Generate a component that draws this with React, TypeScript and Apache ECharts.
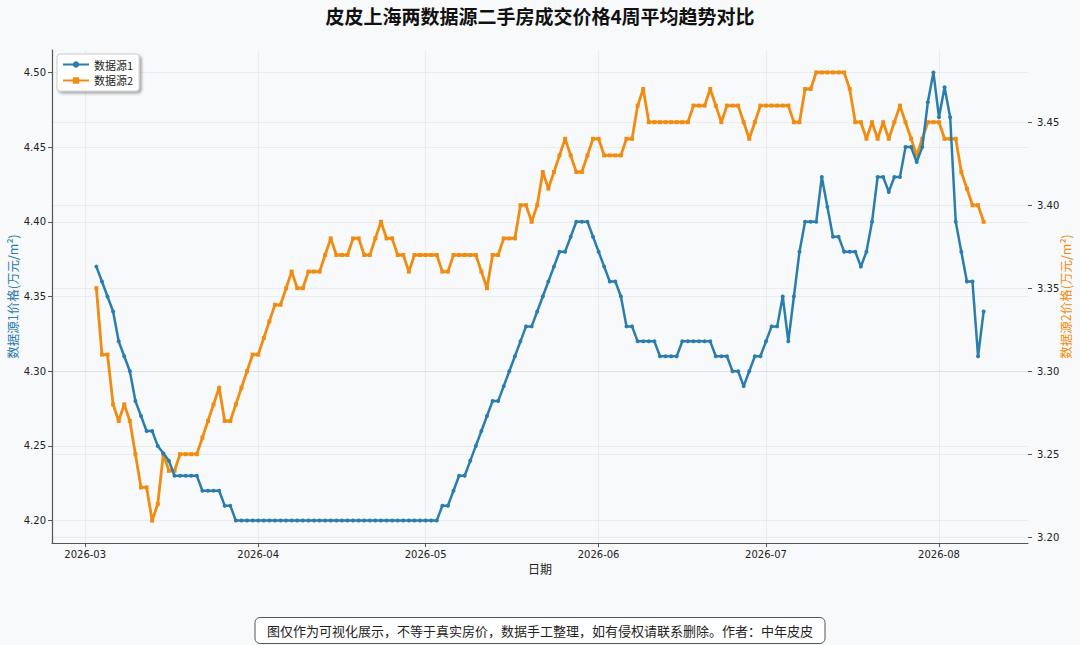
import React, { useEffect, useRef } from "react";
import * as echarts from "echarts";

// ---- data ----
const titleText = "皮皮上海两数据源二手房成交价格4周平均趋势对比";
const seriesNames = ["数据源1", "数据源2"];
const startDay = [2026, 2, 3]; // 2026-03-03, one point per day
const monthTicks = ["2026-03", "2026-04", "2026-05", "2026-06", "2026-07", "2026-08"];
const leftTicks = [4.2, 4.25, 4.3, 4.35, 4.4, 4.45, 4.5];
const rightTicks = [3.2, 3.25, 3.3, 3.35, 3.4, 3.45];
const footerText = "图仅作为可视化展示，不等于真实房价，数据手工整理，如有侵权请联系删除。作者：中年皮皮";

const source1 = [
  4.37, 4.36, 4.35, 4.34, 4.32, 4.31, 4.30, 4.28, 4.27, 4.26,
  4.26, 4.25, 4.245, 4.24, 4.23, 4.23, 4.23, 4.23, 4.23, 4.22,
  4.22, 4.22, 4.22, 4.21, 4.21, 4.20, 4.20, 4.20, 4.20, 4.20,
  4.20, 4.20, 4.20, 4.20, 4.20, 4.20, 4.20, 4.20, 4.20, 4.20,
  4.20, 4.20, 4.20, 4.20, 4.20, 4.20, 4.20, 4.20, 4.20, 4.20,
  4.20, 4.20, 4.20, 4.20, 4.20, 4.20, 4.20, 4.20, 4.20, 4.20,
  4.20, 4.20, 4.21, 4.21, 4.22, 4.23, 4.23, 4.24, 4.25, 4.26,
  4.27, 4.28, 4.28, 4.29, 4.30, 4.31, 4.32, 4.33, 4.33, 4.34,
  4.35, 4.36, 4.37, 4.38, 4.38, 4.39, 4.40, 4.40, 4.40, 4.39,
  4.38, 4.37, 4.36, 4.36, 4.35, 4.33, 4.33, 4.32, 4.32, 4.32,
  4.32, 4.31, 4.31, 4.31, 4.31, 4.32, 4.32, 4.32, 4.32, 4.32,
  4.32, 4.31, 4.31, 4.31, 4.30, 4.30, 4.29, 4.30, 4.31, 4.31,
  4.32, 4.33, 4.33, 4.35, 4.32, 4.35, 4.38, 4.40, 4.40, 4.40,
  4.43, 4.41, 4.39, 4.39, 4.38, 4.38, 4.38, 4.37, 4.38, 4.40,
  4.43, 4.43, 4.42, 4.43, 4.43, 4.45, 4.45, 4.44, 4.45, 4.48,
  4.50, 4.47, 4.49, 4.47, 4.40, 4.38, 4.36, 4.36, 4.31, 4.34,
];

const source2 = [
  3.35, 3.31, 3.31, 3.28, 3.27, 3.28, 3.27, 3.25, 3.23, 3.23,
  3.21, 3.22, 3.25, 3.24, 3.24, 3.25, 3.25, 3.25, 3.25, 3.26,
  3.27, 3.28, 3.29, 3.27, 3.27, 3.28, 3.29, 3.30, 3.31, 3.31,
  3.32, 3.33, 3.34, 3.34, 3.35, 3.36, 3.35, 3.35, 3.36, 3.36,
  3.36, 3.37, 3.38, 3.37, 3.37, 3.37, 3.38, 3.38, 3.37, 3.37,
  3.38, 3.39, 3.38, 3.38, 3.37, 3.37, 3.36, 3.37, 3.37, 3.37,
  3.37, 3.37, 3.36, 3.36, 3.37, 3.37, 3.37, 3.37, 3.37, 3.36,
  3.35, 3.37, 3.37, 3.38, 3.38, 3.38, 3.40, 3.40, 3.39, 3.40,
  3.42, 3.41, 3.42, 3.43, 3.44, 3.43, 3.42, 3.42, 3.43, 3.44,
  3.44, 3.43, 3.43, 3.43, 3.43, 3.44, 3.44, 3.46, 3.47, 3.45,
  3.45, 3.45, 3.45, 3.45, 3.45, 3.45, 3.45, 3.46, 3.46, 3.46,
  3.47, 3.46, 3.45, 3.46, 3.46, 3.46, 3.45, 3.44, 3.45, 3.46,
  3.46, 3.46, 3.46, 3.46, 3.46, 3.45, 3.45, 3.47, 3.47, 3.48,
  3.48, 3.48, 3.48, 3.48, 3.48, 3.47, 3.45, 3.45, 3.44, 3.45,
  3.44, 3.45, 3.44, 3.45, 3.46, 3.45, 3.44, 3.43, 3.44, 3.45,
  3.45, 3.45, 3.44, 3.44, 3.44, 3.42, 3.41, 3.40, 3.40, 3.39,
];

// ---- helpers ----
const dates = source1.map((_, i) =>
  new Date(startDay[0], startDay[1], startDay[2] + i).getTime()
);
const monthValues = monthTicks.map((m) => {
  const [y, mo] = m.split("-").map(Number);
  return new Date(y, mo - 1, 1).getTime();
});
const pad2 = (n: number) => (n < 10 ? "0" + n : "" + n);
const fmtMonth = (v: number) => {
  const d = new Date(v);
  return d.getFullYear() + "-" + pad2(d.getMonth() + 1);
};
const margin = (e: { min: number; max: number }, side: number) => {
  const r = e.max - e.min;
  return side < 0 ? e.min - 0.05 * r : e.max + 0.05 * r;
};

const BLUE = "#2A7DAC";
const ORANGE = "#F08C12";
const AXIS = "#555555";
const GRID = "rgba(60,70,90,0.07)";
const LABEL_FONT = "DejaVu Sans";
const CJK = "Noto Sans CJK SC";

export default function App() {
  const ref = useRef<HTMLDivElement>(null);

  useEffect(() => {
    if (!ref.current) return;
    const chart = echarts.init(ref.current, undefined, { renderer: "svg" });

    const option: any = {
      animation: false,
      backgroundColor: "#f8f9fb",
      title: {
        text: titleText,
        left: "center",
        top: 1,
        textStyle: { fontSize: 19, fontWeight: "bold", color: "#111", fontFamily: CJK },
      },
      legend: {
        left: 57,
        top: 54,
        orient: "vertical",
        itemWidth: 26,
        itemHeight: 8,
        itemGap: 5,
        padding: [5, 6, 5, 5],
        backgroundColor: "#ffffff",
        borderColor: "#cccccc",
        borderWidth: 1,
        borderRadius: 3,
        shadowBlur: 3,
        shadowColor: "rgba(0,0,0,0.35)",
        shadowOffsetX: 2,
        shadowOffsetY: 2,
        textStyle: { fontSize: 11, color: "#222", fontFamily: CJK },
        data: seriesNames,
      },
      grid: {
        left: 52,
        right: 52,
        top: 50,
        bottom: 102,
        containLabel: false,
        outerBoundsMode: "none",
      },
      xAxis: {
        type: "value",
        scale: true,
        min: (e: any) => margin(e, -1),
        max: (e: any) => margin(e, 1),
        name: "日期",
        nameLocation: "middle",
        nameGap: 19,
        nameMoveOverlap: false,
        nameTextStyle: { fontSize: 12, color: "#222", fontFamily: CJK },
        axisLine: { show: true, onZero: false, lineStyle: { color: AXIS, width: 1.2 } },
        axisTick: { show: true, length: 4, customValues: monthValues, lineStyle: { color: AXIS } },
        axisLabel: {
          customValues: monthValues,
          formatter: (v: number) => fmtMonth(v),
          fontSize: 10,
          color: "#222",
          fontFamily: LABEL_FONT,
          margin: 6,
        },
        splitLine: { show: true, lineStyle: { color: GRID, width: 1 } },
      },
      yAxis: [
        {
          type: "value",
          position: "left",
          scale: true,
          min: (e: any) => margin(e, -1),
          max: (e: any) => margin(e, 1),
          name: "数据源1价格(万元/m²)",
          nameLocation: "middle",
          nameGap: 33,
          nameMoveOverlap: false,
          nameTextStyle: { fontSize: 12.5, color: BLUE, fontFamily: CJK },
          axisLine: { show: true, onZero: false, lineStyle: { color: AXIS, width: 1.2 } },
          axisTick: { show: true, length: 4, customValues: leftTicks, lineStyle: { color: AXIS } },
          axisLabel: {
            customValues: leftTicks,
            formatter: (v: number) => v.toFixed(2),
            fontSize: 10,
            color: "#222",
            fontFamily: LABEL_FONT,
            margin: 6,
          },
          splitLine: { show: true, lineStyle: { color: GRID, width: 1 } },
        },
        {
          type: "value",
          position: "right",
          scale: true,
          min: (e: any) => margin(e, -1),
          max: (e: any) => margin(e, 1),
          name: "数据源2价格(万元/m²)",
          nameLocation: "middle",
          nameGap: 31,
          nameMoveOverlap: false,
          nameTextStyle: { fontSize: 12.5, color: ORANGE, fontFamily: CJK },
          axisLine: { show: false, onZero: false },
          axisTick: { show: true, length: 4, customValues: rightTicks, lineStyle: { color: AXIS } },
          axisLabel: {
            customValues: rightTicks,
            formatter: (v: number) => v.toFixed(2),
            fontSize: 10,
            color: "#222",
            fontFamily: LABEL_FONT,
            margin: 9,
          },
          splitLine: { show: true, lineStyle: { color: GRID, width: 1 } },
        },
      ],
      series: [
        {
          name: seriesNames[0],
          type: "line",
          yAxisIndex: 0,
          data: dates.map((d, i) => [d, source1[i]]),
          symbol: "circle",
          symbolSize: 4,
          showSymbol: true,
          color: BLUE,
          lineStyle: { width: 2.5, color: BLUE },
          itemStyle: { color: BLUE },
          z: 3,
        },
        {
          name: seriesNames[1],
          type: "line",
          yAxisIndex: 1,
          data: dates.map((d, i) => [d, source2[i]]),
          symbol: "rect",
          symbolSize: 4,
          showSymbol: true,
          color: ORANGE,
          lineStyle: { width: 2.8, color: ORANGE },
          itemStyle: { color: ORANGE },
          z: 2,
        },
      ],
      graphic: [
        {
          type: "group",
          left: "center",
          top: 617,
          children: [
            {
              type: "rect",
              shape: { x: 0, y: 0, width: 570, height: 26, r: 5 },
              style: { fill: "#ffffff", stroke: "#555", lineWidth: 1 },
            },
            {
              type: "text",
              x: 285,
              y: 13,
              style: {
                text: footerText,
                fontSize: 13,
                fill: "#222",
                fontFamily: CJK,
                align: "center",
                verticalAlign: "middle",
              },
            },
          ],
        },
      ],
    };

    chart.setOption(option);
    return () => chart.dispose();
  }, []);

  return (
    <div
      ref={ref}
      style={{ position: "fixed", left: 0, top: 0, width: 1080, height: 645 }}
    />
  );
}
